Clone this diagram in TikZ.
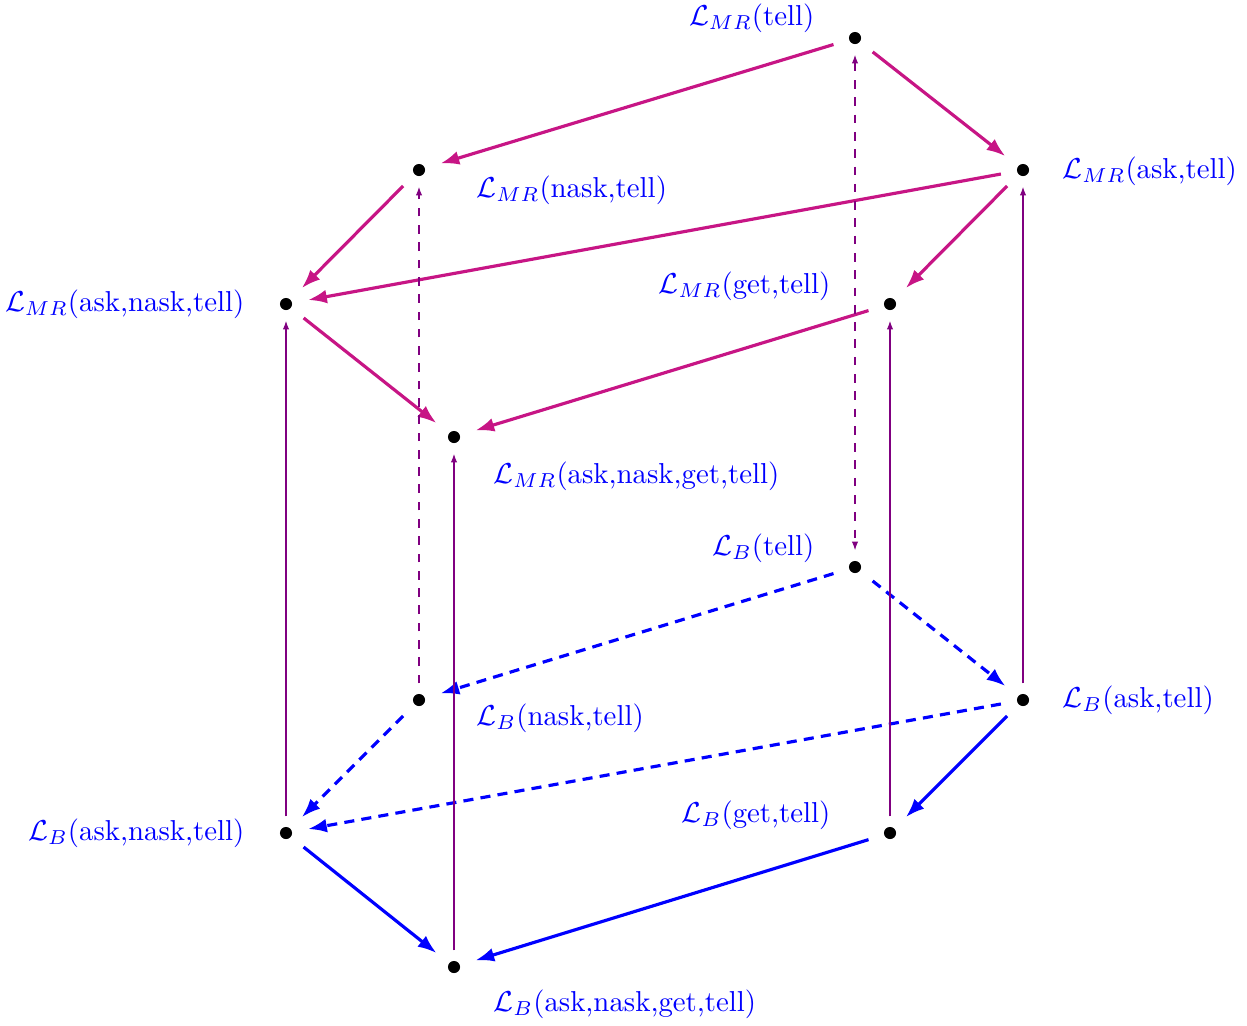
\documentclass[tikz,border=0pt]{standalone}
\usepackage{amsmath}
\usepackage{tikz}
\usetikzlibrary{arrows,arrows.meta}
\definecolor{mrcol}{RGB}{199,21,133}
\definecolor{upcol}{RGB}{128,0,128}

\begin{document}
\begin{tikzpicture}
  [x=0.347pt,y=-0.347pt,
   every node/.style={circle,fill=black,inner sep=0pt,minimum size=4.2pt},
   lab/.style={rectangle,fill=none,inner sep=0pt,text=blue},
   mredge/.style={-{Latex[length=6.5pt,width=4.8pt]},mrcol,line width=1.1pt,shorten <=5.5pt,shorten >=5.5pt},
   bedge/.style={-{Latex[length=6.5pt,width=4.8pt]},blue,line width=1.1pt,shorten <=5.5pt,shorten >=5.5pt},
   bdash/.style={dash pattern=on 3.5pt off 2.5pt},
   upedge/.style={-{Latex[length=3pt,width=2.2pt]},upcol,shorten <=3.5pt,shorten >=3.5pt}]
  \useasboundingbox (0,0) rectangle (1247,1025);
  % upper level
  \node (mT) at (855,38) {};
  \node (mN) at (419,170) {};
  \node (mA) at (1023,170) {};
  \node (mAN) at (286,304) {};
  \node (mG) at (890,304) {};
  \node (mANG) at (454,437) {};
  % lower level
  \node (bT) at (855,567) {};
  \node (bN) at (419,700) {};
  \node (bA) at (1023,700) {};
  \node (bAN) at (286,833) {};
  \node (bG) at (890,833) {};
  \node (bANG) at (454,967) {};
  % labels
  \node[lab,anchor=east] (lmT) at (815,18) {$\mathcal{L}_{MR}$(tell)};
  \node[lab,anchor=west] (lmN) at (476,190) {$\mathcal{L}_{MR}$(nask,tell)};
  \node[lab,anchor=west] (lmA) at (1062,171) {$\mathcal{L}_{MR}$(ask,tell)};
  \node[lab,anchor=east] (lmAN) at (245,304) {$\mathcal{L}_{MR}$(ask,nask,tell)};
  \node[lab,anchor=east] (lmG) at (831,286) {$\mathcal{L}_{MR}$(get,tell)};
  \node[lab,anchor=west] (lmANG) at (493,476) {$\mathcal{L}_{MR}$(ask,nask,get,tell)};
  \node[lab,anchor=east] (lbT) at (815,548) {$\mathcal{L}_{B}$(tell)};
  \node[lab,anchor=west] (lbN) at (476,718) {$\mathcal{L}_{B}$(nask,tell)};
  \node[lab,anchor=west] (lbA) at (1062,700) {$\mathcal{L}_{B}$(ask,tell)};
  \node[lab,anchor=east] (lbAN) at (245,833) {$\mathcal{L}_{B}$(ask,nask,tell)};
  \node[lab,anchor=east] (lbG) at (831,815) {$\mathcal{L}_{B}$(get,tell)};
  \node[lab,anchor=west] (lbANG) at (493,1004) {$\mathcal{L}_{B}$(ask,nask,get,tell)};
  % edges
  \foreach \from/\to in {mT/mN,mT/mA,mN/mAN,mA/mAN,mA/mG,mAN/mANG,mG/mANG}
    \draw[mredge] (\from) -- (\to);
  \foreach \from/\to in {bT/bN,bT/bA,bN/bAN,bA/bAN}
    \draw[bedge,bdash] (\from) -- (\to);
  \foreach \from/\to in {bA/bG,bAN/bANG,bG/bANG}
    \draw[bedge] (\from) -- (\to);
  \foreach \from/\to in {bAN/mAN,bANG/mANG,bG/mG,bA/mA}
    \draw[upedge] (\from) -- (\to);
  \draw[upedge,dashed] (bN) -- (mN);
  \draw[upedge,{Latex[length=3pt,width=2.2pt]}-{Latex[length=3pt,width=2.2pt]},dashed] (mT) -- (bT);
\end{tikzpicture}
\end{document}
